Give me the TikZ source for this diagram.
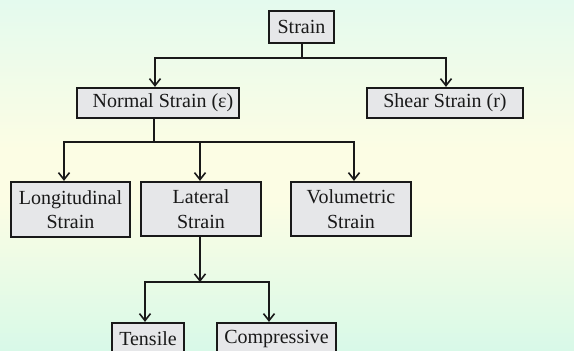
\documentclass[tikz,border=0pt]{standalone}
\usepackage{fontspec}
\setmainfont{Liberation Serif}
\usetikzlibrary{arrows.meta}
\definecolor{boxfill}{HTML}{E6E7E9}
\definecolor{minttop}{HTML}{E4FAEE}
\definecolor{mintbot}{HTML}{D8F9E8}
\definecolor{paleyel}{HTML}{FCFDE4}
\begin{document}
\begin{tikzpicture}[x=1pt,y=-1pt,
  box/.style={draw=black!90,line width=2.2pt,fill=boxfill,inner sep=0pt,
    font=\fontsize{20}{24.5}\selectfont,align=center,text=black!90},
  conn/.style={draw=black!90,line width=2pt},
  arr/.style={conn,-{Straight Barb[length=7pt,width=11pt,line width=1.6pt]}}]
\useasboundingbox (0,0) rectangle (574,351);
\fill[paleyel] (0,0) rectangle (574,351);
\shade[top color=minttop,bottom color=paleyel] (0,0) rectangle (574,150);
\shade[top color=paleyel,bottom color=mintbot] (0,200) rectangle (574,351);
\begin{scope}
\clip (0,0) rectangle (574,351);
\node[box,minimum width=65pt,minimum height=32pt] (strain) at (301.5,27) {Strain};
\node[box,minimum width=162pt,minimum height=30pt] (normal) at (158,103) {\hspace*{10pt}Normal Strain (ε)};
\node[box,minimum width=156pt,minimum height=30pt] (shear) at (445,103) {Shear Strain (r)};
\node[box,minimum width=119pt,minimum height=55pt] (long) at (70.5,209.5) {Longitudinal\\Strain};
\node[box,minimum width=120pt,minimum height=54pt] (lat) at (201,209) {Lateral\\Strain};
\node[box,minimum width=120pt,minimum height=54pt] (vol) at (351,209) {Volumetric\\Strain};
\node[box,minimum width=72pt,minimum height=40pt,text depth=0pt] (tens) at (148,343) {\raisebox{9pt}{Tensile}};
\node[box,minimum width=119pt,minimum height=40pt,text depth=0pt] (comp) at (276.5,343) {\raisebox{12pt}{Compressive}};
\end{scope}
% level 1
\draw[conn] (strain.south) -- ++(0,14) coordinate (j1);
\draw[arr] (j1) -| ([xshift=-3pt]normal.north);
\draw[arr] (j1) -| ([xshift=1pt]shear.north);
% level 2
\draw[conn] ([xshift=-4pt]normal.south) -- ++(0,23) coordinate (j2);
\draw[arr] (j2) -| ([xshift=-6.5pt]long.north);
\draw[arr] (j2) -| ([xshift=-1pt]lat.north);
\draw[arr] (j2) -| ([xshift=3pt]vol.north);
% level 3
\draw[arr] ([xshift=-1pt]lat.south) -- ++(0,45) coordinate (j3);
\draw[arr] (j3) -| ([xshift=-3pt]tens.north);
\draw[arr] (j3) -| ([xshift=-7.5pt]comp.north);
\end{tikzpicture}
\end{document}
